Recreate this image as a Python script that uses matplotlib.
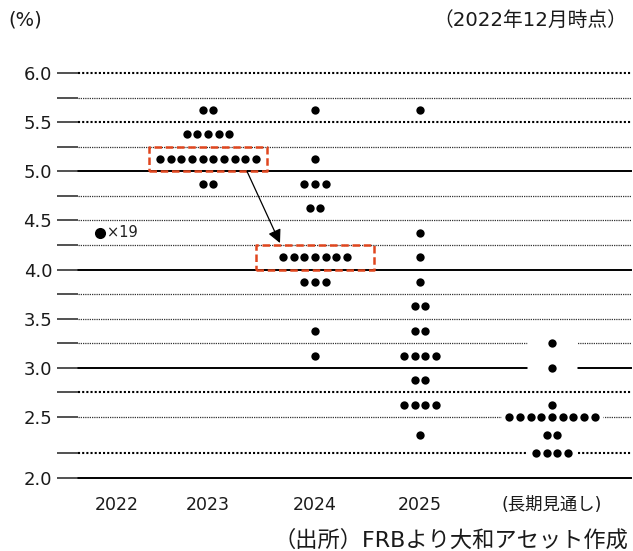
import numpy as np
import matplotlib
matplotlib.use('Agg')
import matplotlib.pyplot as plt

plt.rcParams['font.family'] = ['DejaVu Sans', 'Noto Sans CJK JP']

# FOMC dot plot, December 2022 (policy rate midpoints, count of participants)
categories = ['2022', '2023', '2024', '2025', '(長期見通し)']
dots_2022 = {4.375: 19}
dots_2023 = {5.625: 2, 5.375: 5, 5.125: 10, 4.875: 2}
dots_2024 = {5.625: 1, 5.125: 1, 4.875: 3, 4.625: 2, 4.125: 7,
             3.875: 3, 3.375: 1, 3.125: 1}
dots_2025 = {5.625: 1, 4.375: 1, 4.125: 1, 3.875: 1, 3.625: 2,
             3.375: 2, 3.125: 4, 2.875: 2, 2.625: 4, 2.375: 1}
dots_longrun = {3.25: 1, 3.0: 1, 2.625: 1, 2.5: 9, 2.375: 2, 2.25: 4}
series = [dots_2023, dots_2024, dots_2025, dots_longrun]

y_ticks = np.arange(2.0, 6.01, 0.5)
grid_levels = np.arange(2.0, 6.01, 0.25)
solid_levels = [2.0, 3.0, 4.0, 5.0]
heavy_dot_levels = [2.25, 2.75, 5.5, 6.0]

# layout: column centres (x units of ~100 px) and dot spacing
col_x = [0.0, 0.91, 1.98, 3.03, 4.35]
step = 0.107

# the reference stretches the band between 2.25 and 2.5 a little
yb = [2.0, 2.25, 2.5, 6.0]
yp = [0.0, 25.0, 61.0, 405.0]
def fwd(v):
    return np.interp(v, yb, yp, left=np.nan, right=np.nan)
def inv(v):
    return np.interp(v, yp, yb)

fig = plt.figure(figsize=(6.33, 5.51), dpi=100)
ax = fig.add_axes([78 / 633, 1 - 478 / 551, 553 / 633, 405 / 551])
ax.set_yscale('function', functions=(fwd, inv))
ax.set_ylim(2.0, 6.0)
ax.set_xlim(-0.39, 5.14)

# horizontal grid
for g in grid_levels:
    if np.any(np.isclose(solid_levels, g)):
        ax.axhline(g, color='black', lw=1.4, zorder=1, clip_on=False)
    elif np.any(np.isclose(heavy_dot_levels, g)):
        ax.axhline(g, color='black', lw=1.5, ls=(0, (1, 1)), zorder=1, clip_on=False)
    else:
        ax.axhline(g, color='#333333', lw=0.9, ls=(0, (1, 0.8)), zorder=1, clip_on=False)

# dots
for cx, d in zip(col_x[1:], series):
    for val, n in d.items():
        xs = cx + (np.arange(n) - (n - 1) / 2) * step
        ax.scatter(xs, np.full(n, val), s=36, color='black', zorder=4,
                   linewidths=0, clip_on=False)

# longer-run dots sit on grid lines: break the lines around them
for val, n in dots_longrun.items():
    if np.any(np.isclose(grid_levels, val)):
        half = max(0.25, (n - 1) / 2 * step + 0.08)
        ax.hlines(val, col_x[4] - half, col_x[4] + half, color='white', lw=5, zorder=2)

# 2022: single marker with count
for val, n in dots_2022.items():
    ax.scatter([col_x[0] - 0.17], [val], s=64, color='black', zorder=4, linewidths=0)
    ax.text(col_x[0] - 0.1, val, '×' + str(n), fontsize=10.5, va='center', ha='left',
            color='#222222')

# highlighted medians
box_half = 0.59
box_color = '#E0461E'
for cx, lo, hi in [(col_x[1], 5.0, 5.25), (col_x[2], 4.0, 4.25)]:
    xs = [cx - box_half, cx + box_half, cx + box_half, cx - box_half, cx - box_half]
    ys = [lo, lo, hi, hi, lo]
    ax.plot(xs, ys, color=box_color, lw=1.8, ls=(0, (3, 1.5)), zorder=5)

ax.annotate('', xy=(col_x[2] - 0.35, 4.27), xytext=(col_x[1] + 0.39, 5.0),
            arrowprops=dict(arrowstyle='-|>', color='black', lw=0.9,
                            mutation_scale=20, shrinkA=0, shrinkB=0), zorder=6)

# axes styling
for s in ax.spines.values():
    s.set_visible(False)
ax.set_yticks(y_ticks)
ax.set_yticklabels([f'{v:.1f}' for v in y_ticks])
ax.set_yticks(grid_levels, minor=True)
ax.tick_params(axis='y', which='both', length=15, width=1.2, color='#333333',
               labelsize=13, labelcolor='#1a1a1a', pad=3.5)
ax.set_xticks(col_x)
ax.set_xticklabels(categories)
ax.tick_params(axis='x', length=0, labelsize=12.5, labelcolor='#1a1a1a', pad=13)
ax.xaxis.set_minor_locator(matplotlib.ticker.NullLocator())

fig.text(8 / 633, 1 - 20 / 551, '(%)', fontsize=14, va='center', ha='left', color='#1a1a1a')
fig.text(627 / 633, 1 - 20 / 551, '（2022年12月時点）', fontsize=14.2, va='center',
         ha='right', color='#1a1a1a')
fig.text(628 / 633, 1 - 540 / 551, '（出所）FRBより大和アセット作成', fontsize=16,
         va='center', ha='right', color='#1a1a1a')

fig.savefig('out.png', dpi=100)
